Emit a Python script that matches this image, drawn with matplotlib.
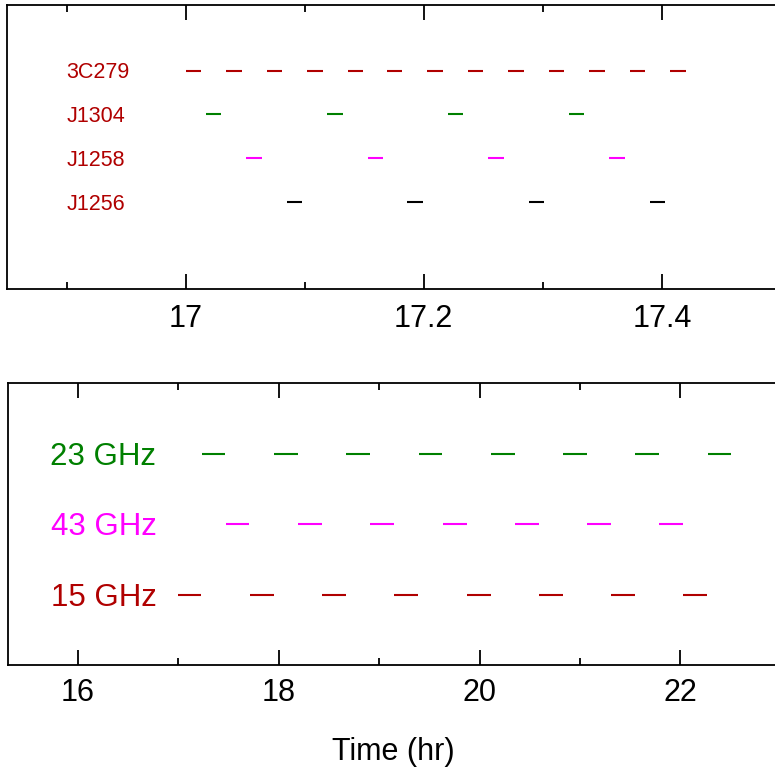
import matplotlib
matplotlib.use("Agg")
from matplotlib import pyplot as plt
from matplotlib.ticker import MultipleLocator

plt.rcParams["font.family"] = ["Liberation Sans", "DejaVu Sans"]

red = "#b00000"
green = "#008000"
magenta = "#ff00ff"

# top panel: calibrator cycle (start times in hr, scan length 0.013 hr)
src_names = ["3C279", "J1304", "J1258", "J1256"]
src_rows = [4, 3, 2, 1]
src_colors = [red, green, magenta, "black"]
src_starts = [
    [17.000, 17.034, 17.068, 17.102, 17.136, 17.169, 17.203, 17.237,
     17.271, 17.305, 17.339, 17.373, 17.407],
    [17.017, 17.119, 17.220, 17.322],
    [17.051, 17.153, 17.254, 17.356],
    [17.085, 17.186, 17.288, 17.390],
]
src_len = 0.013

# bottom panel: frequency switching
band_names = ["23 GHz", "43 GHz", "15 GHz"]
band_rows = [3, 2, 1]
band_colors = [green, magenta, red]
band_starts = [
    [17.235, 17.952, 18.672, 19.393, 20.111, 20.831, 21.551, 22.272],
    [17.474, 18.188, 18.908, 19.632, 20.353, 21.073, 21.790],
    [16.993, 17.710, 18.430, 19.150, 19.871, 20.592, 21.312, 22.029],
]
band_ends = [
    [17.467, 18.188, 18.908, 19.628, 20.350, 21.067, 21.787, 22.507],
    [17.706, 18.427, 19.147, 19.871, 20.589, 21.309, 22.029],
    [17.228, 17.949, 18.666, 19.389, 20.111, 20.831, 21.551, 22.269],
]

fig = plt.figure(figsize=(7.75, 7.76), dpi=100)
ax1 = fig.add_axes([0.009, 0.6272, 0.9987, 0.3664])
ax2 = fig.add_axes([0.0099, 0.1430, 0.9975, 0.3630])


def style(ax, pad):
    for s in ax.spines.values():
        s.set_linewidth(1.3)
    ax.tick_params(which="both", direction="in", top=True, bottom=True,
                   left=False, labelleft=False, width=1.3, pad=pad,
                   labelsize=22)
    ax.tick_params(which="major", length=10.8)
    ax.tick_params(which="minor", length=5)
    ax.set_yticks([])


for name, row, col, starts in zip(src_names, src_rows, src_colors, src_starts):
    ends = [s + src_len for s in starts]
    for a, b in zip(starts, ends):
        ax1.plot([a, b], [row, row], color=col, lw=1.5, solid_capstyle="butt")
    ax1.annotate(name, (16.9, row), xytext=(0, -5.6), textcoords="offset points",
                 color=red, fontsize=15.5, ha="left", va="baseline")
ax1.set_xlim(16.85, 17.5)
ax1.set_ylim(-1, 5.5)
ax1.xaxis.set_minor_locator(MultipleLocator(0.1))
style(ax1, 10.5)
ax1.set_xticks([17.0, 17.2, 17.4])
ax1.set_xticklabels(["17", "17.2", "17.4"])

for name, row, col, starts, ends in zip(band_names, band_rows, band_colors,
                                        band_starts, band_ends):
    for a, b in zip(starts, ends):
        ax2.plot([a, b], [row, row], color=col, lw=1.5, solid_capstyle="butt")
    ax2.annotate(name, (16.78, row), xytext=(0, -7.9), textcoords="offset points",
                 color=col, fontsize=22.5, ha="right", va="baseline")
ax2.set_xlim(15.3, 23)
ax2.set_ylim(0, 4)
ax2.xaxis.set_major_locator(MultipleLocator(2))
ax2.xaxis.set_minor_locator(MultipleLocator(1))
style(ax2, 9.5)

fig.text(0.508, 0.0206, "Time (hr)", fontsize=22, ha="center", va="baseline")

fig.savefig("out.png", dpi=100)
